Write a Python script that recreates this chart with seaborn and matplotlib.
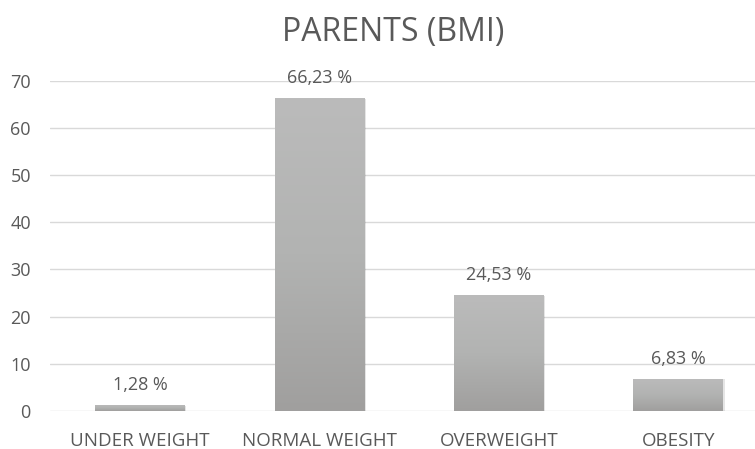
import numpy as np
import pandas as pd
import matplotlib
matplotlib.use("Agg")
import matplotlib.pyplot as plt
import seaborn as sns
from matplotlib.colors import LinearSegmentedColormap

categories = ["UNDER WEIGHT", "NORMAL WEIGHT", "OVERWEIGHT", "OBESITY"]
values = [1.28, 66.23, 24.53, 6.83]
value_labels = ["1,28 %", "66,23 %", "24,53 %", "6,83 %"]
yticks = [0, 10, 20, 30, 40, 50, 60, 70]

sns.set_theme(style="white")
plt.rcParams["font.family"] = ["Open Sans", "DejaVu Sans"]

text_color = "#595959"
grid_color = "#d9d9d9"

df = pd.DataFrame({"category": categories, "value": values})

fig = plt.figure(figsize=(7.55, 4.49), dpi=100)
W, H = 755, 449
left_px, right_px, top_px, bottom_px = 50.3, 768, 80.7, 411
ax = fig.add_axes([left_px / W, (H - bottom_px) / H,
                   (right_px - left_px) / W, (bottom_px - top_px) / H])

sns.barplot(data=df, x="category", y="value", ax=ax, width=0.5,
            color="#b0b0b0", edgecolor="none", saturation=1)

ax.set_ylim(0, 70)
ax.set_xlim(-0.5, 3.5)
ax.set_yticks(yticks)
ax.set_yticklabels([str(t) for t in yticks])
ax.yaxis.grid(True, color=grid_color, linewidth=1)
ax.set_axisbelow(True)
for s in ax.spines.values():
    s.set_visible(False)
ax.tick_params(axis="y", length=0, pad=14, labelsize=13, labelcolor=text_color)
ax.tick_params(axis="x", length=0, pad=15, labelsize=13.5, labelcolor=text_color)
ax.set_xlabel("")
ax.set_ylabel("")

# vertical gradient fill for each bar, with a soft shadow
cmap = LinearSegmentedColormap.from_list("bar", ["#a09f9e", "#b2b3b2", "#bbbbbb"])
grad = np.linspace(0, 1, 256).reshape(-1, 1)
for patch in list(ax.patches):
    x0, y0 = patch.get_x(), patch.get_y()
    w, h = patch.get_width(), patch.get_height()
    shadow = plt.Rectangle((x0 + 0.008, y0 - 0.15), w, h, facecolor="#000000",
                           alpha=0.10, edgecolor="none", zorder=1.5)
    ax.add_patch(shadow)
    im = ax.imshow(grad, cmap=cmap, origin="lower", aspect="auto",
                   extent=(x0, x0 + w, y0, y0 + h), zorder=2)
    im.set_clip_path(patch)
    patch.set_facecolor("none")

for i, (v, lab) in enumerate(zip(values, value_labels)):
    ax.annotate(lab, (i, v), xytext=(0, 8), textcoords="offset points",
                ha="center", va="bottom", fontsize=13, color=text_color)

fig.text(393 / W, 1 - 33 / H, "PARENTS (BMI)", ha="center", va="center",
         fontsize=23, color=text_color)

fig.savefig("out.png", dpi=100, facecolor="white")
